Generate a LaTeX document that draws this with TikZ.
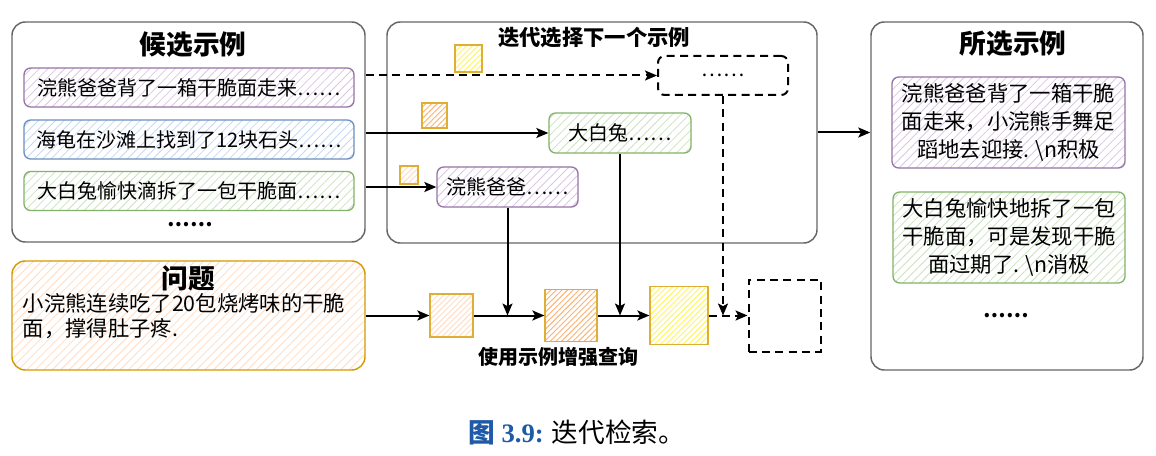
\documentclass[tikz,border=0pt]{standalone}
\usepackage{fontspec}
\setmainfont{Noto Sans CJK SC}
\newfontfamily\capserif{Liberation Serif}
\usepackage{xcolor}
\usepackage{tikz}
\usetikzlibrary{arrows.meta,positioning,patterns.meta}

\definecolor{purpleD}{HTML}{9673A6}
\definecolor{purpleL}{HTML}{D9C8E3}
\definecolor{blueD}{HTML}{6C8EBF}
\definecolor{blueL}{HTML}{C6D9F3}
\definecolor{greenD}{HTML}{82B366}
\definecolor{greenL}{HTML}{CBE3C0}
\definecolor{goldD}{HTML}{D79B00}
\definecolor{orgL}{HTML}{FFDCC2}
\definecolor{orgM}{HTML}{FBB272}
\definecolor{yelM}{HTML}{FFF55C}
\definecolor{capblue}{HTML}{1F5AA8}
\newcommand\pxu{0.75pt}

\begin{document}
\begin{tikzpicture}[
    x=0.75pt, y=-0.75pt,
    panel/.style={rectangle, draw=black!60, line width=1.1pt, rounded corners=10pt, fill=white, inner sep=0pt},
    hatchbox/.style={rectangle, rounded corners=5pt, line width=1pt, inner sep=0pt, align=center, font=\fontsize{15}{20}\selectfont, preaction={fill=white}, pattern={Lines[angle=45,distance=4.5pt,line width=0.6pt]}},
    purplebox/.style={hatchbox, draw=purpleD, pattern color=purpleL},
    bluebox/.style={hatchbox, draw=blueD, pattern color=blueL},
    greenbox/.style={hatchbox, draw=greenD, pattern color=greenL},
    tag/.style={rectangle, draw=goldD!80, line width=0.9pt, inner sep=0pt, preaction={fill=white}, pattern={Lines[angle=45,distance=3pt,line width=0.7pt]}},
    heading/.style={font=\fontsize{20}{24}\selectfont\bfseries},
    arrow/.style={-{Stealth[length=9pt,width=7.5pt,inset=2pt]}, line width=1.5pt},
    dasharrow/.style={arrow, dash pattern=on 6pt off 4pt}
]
    \fill [white] (0,0) rectangle (1156,456);
    \useasboundingbox (0,0) rectangle (1156,456);

    % candidate examples
    \node [panel, minimum width=353*\pxu, minimum height=220*\pxu] (cand) at (188.5,132) {};
    \node [heading] (candtitle) at (193,45) {候选示例};
    \node [purplebox, minimum width=330*\pxu, minimum height=39*\pxu] (r1) at (189,87.5) {浣熊爸爸背了一箱干脆面走来……};
    \node [bluebox, minimum width=330*\pxu, minimum height=39*\pxu] (r2) at (189,139.5) {海龟在沙滩上找到了12块石头……};
    \node [greenbox, minimum width=330*\pxu, minimum height=39*\pxu] (r3) at (189,191) {大白兔愉快滴拆了一包干脆面……};
    \node [font=\fontsize{15}{20}\selectfont\bfseries] (canddots) at (190,225) {……};

    % iterative selection
    \node [panel, minimum width=430*\pxu, minimum height=221*\pxu] (iter) at (602,132.5) {};
    \node [font=\fontsize{16}{20}\selectfont\bfseries] (itertitle) at (594,38) {迭代选择下一个示例};
    \node [tag, pattern color=yelM, minimum size=27*\pxu] (ya) at (468.5,58.5) {};
    \node [tag, pattern color=orgM, minimum size=25*\pxu] (ob) at (434.5,115.5) {};
    \node [tag, pattern color=orgL, minimum size=18*\pxu] (lo) at (409,175) {};
    \node [rectangle, draw, dash pattern=on 6pt off 4pt, line width=1.5pt, rounded corners=5pt, minimum width=130*\pxu, minimum height=39*\pxu, font=\fontsize{15}{20}\selectfont] (ddots) at (723,75.5) {……};
    \node [greenbox, minimum width=142*\pxu, minimum height=40*\pxu] (dbt) at (620,133) {大白兔……};
    \node [purplebox, minimum width=141*\pxu, minimum height=40*\pxu] (hxbb) at (507.5,187) {浣熊爸爸……};

    % selected examples
    \node [panel, minimum width=272*\pxu, minimum height=348*\pxu] (sel) at (1007,196) {};
    \node [heading] (seltitle) at (1013,44) {所选示例};
    \node [purplebox, minimum width=233*\pxu, minimum height=91*\pxu, font=\fontsize{16}{21}\selectfont] (p1) at (1008.5,122.5) {浣熊爸爸背了一箱干脆\\面走来，小浣熊手舞足\\蹈地去迎接. \textbackslash n积极};
    \node [greenbox, minimum width=232*\pxu, minimum height=91*\pxu, font=\fontsize{16}{21}\selectfont] (p2) at (1009,237.5) {大白兔愉快地拆了一包\\干脆面，可是发现干脆\\面过期了. \textbackslash n消极};
    \node [font=\fontsize{15}{20}\selectfont\bfseries] (seldots) at (1006,316) {……};

    % question
    \node [rectangle, draw=goldD, line width=1.1pt, rounded corners=10pt, minimum width=353*\pxu, minimum height=109*\pxu, preaction={fill=white}, pattern={Lines[angle=45,distance=4.5pt,line width=0.6pt]}, pattern color=orgL] (q) at (188.5,315.5) {};
    \node [heading] (qtitle) at (188,278) {问题};
    \node [anchor=west, align=left, font=\fontsize{16}{19}\selectfont] (qtext) at (18,316) {小浣熊连续吃了20包烧烤味的干脆\\面，撑得肚子疼.};

    % augmented query
    \node [tag, pattern color=orgL, minimum size=43*\pxu] (s1) at (451.5,315.5) {};
    \node [tag, pattern color=orgM, minimum size=52*\pxu] (s2) at (571,315.5) {};
    \node [tag, pattern color=yelM, minimum size=58*\pxu] (s3) at (679,315.5) {};
    \node [rectangle, draw, dash pattern=on 6pt off 4pt, line width=1.5pt, minimum size=72*\pxu, inner sep=0pt] (s4) at (784.5,315.5) {};
    \node [font=\fontsize{15}{20}\selectfont\bfseries] (auglabel) at (558,357) {使用示例增强查询};

    \node [font=\fontsize{20}{24}\selectfont] (caption) at (577,432) {{\color{capblue}\bfseries 图 {\capserif 3.9:}}\hspace{0.3em}迭代检索。};

    \draw [dasharrow] (ddots.west -| cand.east) -- (ddots.west);
    \draw [arrow] (dbt.west -| cand.east) -- (dbt.west);
    \draw [arrow] (hxbb.west -| cand.east) -- (hxbb.west);
    \draw [arrow] (iter.east) -- (iter.east -| sel.west);

    \draw [arrow] (q) -- (s1);
    \draw [arrow] (s1) -- (s2);
    \draw [arrow] (s2) -- (s3);
    \draw [dasharrow] (s3) -- (s4);
    \draw [arrow] (hxbb.south) -- (hxbb.south |- s2.west);
    \draw [arrow] (dbt.south) -- (dbt.south |- s3.west);
    \draw [dasharrow] (ddots.south) -- (ddots.south |- s4.west);
\end{tikzpicture}
\end{document}
